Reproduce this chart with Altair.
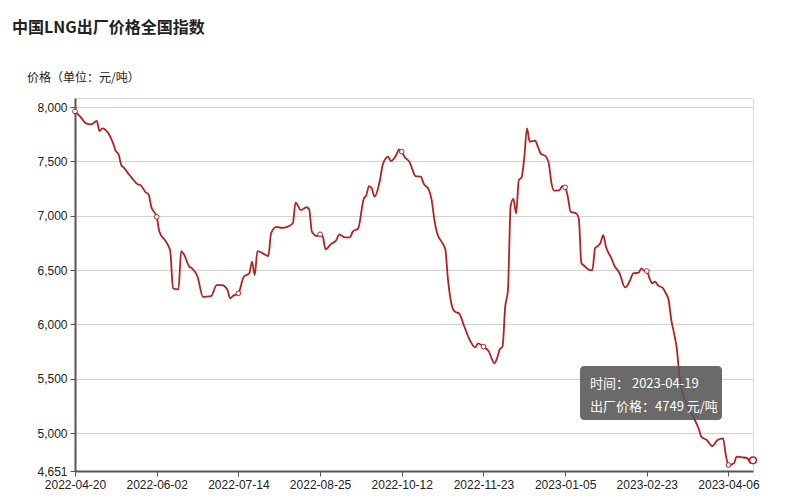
import altair as alt
import pandas as pd

title_text = "中国LNG出厂价格全国指数"
y_title_text = "价格（单位：元/吨）"

tick_labels = ["2022-04-20", "2022-06-02", "2022-07-14", "2022-08-25", "2022-10-12",
               "2022-11-23", "2023-01-05", "2023-02-23", "2023-04-06"]
last_date = "2023-04-19"
y_ticks = [4651, 5000, 5500, 6000, 6500, 7000, 7500, 8000]

idx = [0, 2, 4, 6, 8, 9, 10, 12, 14, 15, 16, 17, 18, 20, 21, 23, 24, 26, 27, 28,
       30, 31, 33, 34, 35, 36, 38, 39, 40, 42, 43, 45, 47, 50, 52, 54, 56, 57, 58,
       60, 62, 64, 65, 66, 67, 69, 71, 72, 74, 76, 78, 80, 81, 83, 85, 86, 87, 89,
       90, 91, 92, 94, 96, 97, 99, 101, 102, 104, 106, 107, 108, 109, 110, 112, 113,
       115, 116, 118, 119, 120, 121, 123, 124, 125, 127, 128, 130, 131, 132, 133,
       135, 136, 137, 139, 140, 141, 143, 145, 147, 148, 150, 152, 153, 154, 155,
       156, 157, 158, 159, 160, 161, 162, 163, 164, 165, 166, 167, 169, 170, 171,
       173, 174, 175, 176, 178, 179, 180, 181, 182, 184, 185, 186, 187, 189, 190,
       191, 192, 193, 194, 195, 197, 198, 200, 202, 203, 204, 205, 207, 208, 209,
       210, 211, 212, 213, 214, 216, 217, 218, 219, 220, 221, 222, 224, 227, 229,
       230, 232, 234, 236, 238, 239, 240, 242, 243, 245, 247, 248, 249]
price = [7960, 7910, 7850, 7840, 7873, 7779, 7804, 7767, 7666, 7595, 7565, 7466, 7441, 7374, 7344, 7289, 7282, 7215, 7197, 7083,
         6990, 6853, 6776, 6737, 6669, 6332, 6323, 6675, 6645, 6531, 6516, 6438, 6254, 6261, 6362, 6362, 6316, 6240, 6261,
         6286, 6438, 6470, 6577, 6454, 6675, 6654, 6629, 6838, 6898, 6889, 6898, 6930, 7120, 7052, 7078, 7060, 6853, 6813,
         6829, 6807, 6691, 6739, 6776, 6829, 6801, 6801, 6853, 6884, 7151, 7190, 7273, 7252, 7175, 7328, 7466,
         7543, 7503, 7558, 7611, 7589, 7543, 7487, 7420, 7365, 7359, 7298, 7236, 7144, 6960, 6838,
         6746, 6691, 6408, 6132, 6111, 6102, 5978, 5856, 5789, 5826, 5795, 5749, 5688, 5642, 5688,
         5771, 5795, 6163, 6316, 7090, 7155, 7022, 7328, 7353, 7535, 7804, 7681, 7690, 7635, 7574,
         7543, 7482, 7298, 7230, 7236, 7275, 7261, 7175, 7037, 7022, 6976, 6562, 6540, 6500, 6500,
         6700, 6721, 6751, 6822, 6714, 6608, 6546, 6470, 6341, 6362, 6415, 6470, 6476, 6516, 6494,
         6491, 6424, 6378, 6393, 6362, 6332, 6286, 6224, 6040, 5918, 5780, 5520, 5304, 5151, 5044,
         4967, 4936, 4881, 4936, 4952, 4800, 4706, 4722, 4783, 4777, 4768, 4727, 4749]

df = pd.DataFrame({"idx": idx, "price": price})
n_last = idx[-1]
last_price = price[-1]

label_js = "[" + ",".join("'" + s + "'" for s in tick_labels) + "]"

LINE = "#b22222"
FONT_NUM = "Liberation Sans"
FONT_CJK = "Noto Sans CJK SC"

x_enc = alt.X("idx:Q",
              scale=alt.Scale(domain=[0, n_last], nice=False, zero=False),
              axis=alt.Axis(values=[i * 30 for i in range(len(tick_labels))],
                            labelExpr=label_js + "[round(datum.value/30)]",
                            title=None, grid=False,
                            domainColor="#555", domainWidth=2,
                            tickColor="#555", tickSize=5, tickWidth=1,
                            labelFont=FONT_NUM, labelFontSize=12, labelColor="#222",
                            labelPadding=3, labelFlush=False, labelOverlap=False))
y_enc = alt.Y("price:Q",
              scale=alt.Scale(domain=[4651, 8083], nice=False, zero=False),
              axis=alt.Axis(values=y_ticks, format=",.0f", title=None,
                            grid=True, gridColor="#d3d3d3", gridWidth=1,
                            domainColor="#555", domainWidth=2,
                            tickColor="#555", tickSize=5, tickWidth=1,
                            labelFont=FONT_NUM, labelFontSize=12, labelColor="#222",
                            labelPadding=3, labelOverlap=False))

base = alt.Chart(df)

line = base.mark_line(color=LINE, strokeWidth=1.8, interpolate="monotone").encode(x=x_enc, y=y_enc)

pts = base.transform_filter("datum.idx % 30 == 0").mark_point(
    shape="circle", filled=True, fill="white", stroke=LINE, strokeWidth=1, size=22, opacity=1
).encode(x="idx:Q", y="price:Q")

hover = base.transform_filter(f"datum.idx == {n_last}").mark_point(
    shape="circle", filled=True, fill="white", stroke=LINE, strokeWidth=1.5, size=45, opacity=1
).encode(x="idx:Q", y="price:Q")

ann = pd.DataFrame({"t": [0]})
title_mark = alt.Chart(ann).mark_text(
    text=title_text, font=FONT_CJK, fontSize=16, fontWeight="bold", color="#222",
    align="left", baseline="middle"
).encode(x=alt.value(-63), y=alt.value(-70))

ytitle_mark = alt.Chart(ann).mark_text(
    text=y_title_text, font=FONT_CJK, fontSize=12, color="#222",
    align="left", baseline="middle"
).encode(x=alt.value(-48), y=alt.value(-20))

tip_box = alt.Chart(ann).mark_rect(
    color="#555", opacity=0.88, cornerRadius=4
).encode(x=alt.value(505), x2=alt.value(647), y=alt.value(268), y2=alt.value(322))

tip1 = alt.Chart(ann).mark_text(
    text="时间：  " + last_date, font=FONT_CJK, fontSize=13, color="white",
    align="left", baseline="middle"
).encode(x=alt.value(515), y=alt.value(286))

tip2 = alt.Chart(ann).mark_text(
    text="出厂价格：" + str(last_price) + " 元/吨", font=FONT_CJK, fontSize=13, color="white",
    align="left", baseline="middle"
).encode(x=alt.value(515), y=alt.value(309))

chart = alt.layer(line, pts, hover, tip_box, tip1, tip2, title_mark, ytitle_mark).properties(
    width=678, height=373,
    autosize=alt.AutoSizeParams(type="none"),
    padding={"left": 67, "top": 90, "right": 39, "bottom": 22},
).configure_view(stroke="#cccccc", strokeWidth=1).configure(background="white")

chart.save("out.html", embed_options={"renderer": "svg", "actions": False})
